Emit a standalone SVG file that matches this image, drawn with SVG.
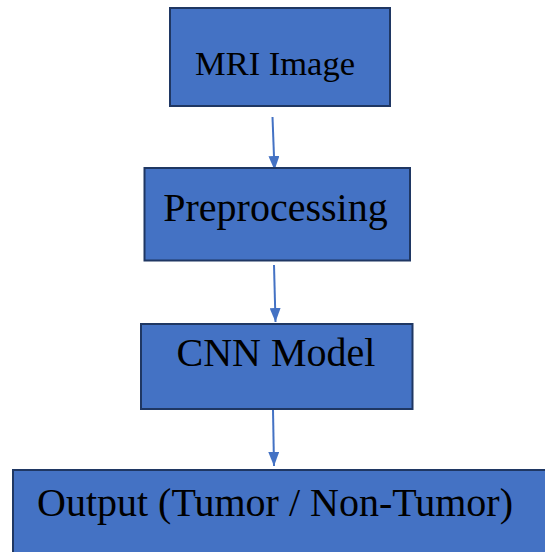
<svg xmlns="http://www.w3.org/2000/svg" width="545" height="552" viewBox="0 0 545 552">
<style>
.box{fill:#4472C4;stroke:#1F3763;stroke-width:2}
.lbl{font-family:"Liberation Serif","Times New Roman",serif;fill:#000;text-anchor:middle}
.conn{stroke:#4472C4;stroke-width:2;fill:none;marker-end:url(#ah)}
</style>
<defs>
<marker id="ah" markerUnits="userSpaceOnUse" markerWidth="14" markerHeight="11" refX="14" refY="5.5" orient="auto">
<path d="M0,0 L14,5.5 L0,11 Z" fill="#4472C4"/>
</marker>
</defs>
<rect width="545" height="552" fill="#fff"/>
<g id="connectors">
<line class="conn" x1="272.5" y1="117" x2="274.5" y2="170"/>
<line class="conn" x1="274" y1="265" x2="275.5" y2="322"/>
<line class="conn" x1="273" y1="410" x2="274" y2="466"/>
</g>
<g id="mri">
<rect class="box" x="170" y="8" width="220" height="98"/>
<text class="lbl" x="275" y="75" font-size="34.5">MRI Image</text>
</g>
<g id="preprocessing">
<rect class="box" x="144.5" y="168" width="265.5" height="92.5"/>
<text class="lbl" x="275.5" y="221" font-size="40">Preprocessing</text>
</g>
<g id="cnn">
<rect class="box" x="141" y="324" width="271.5" height="85"/>
<text class="lbl" x="276" y="366" font-size="40">CNN Model</text>
</g>
<g id="output">
<rect class="box" x="13" y="470" width="545" height="100"/>
<text class="lbl" x="275" y="516" font-size="40">Output (Tumor / Non-Tumor)</text>
</g>
</svg>
